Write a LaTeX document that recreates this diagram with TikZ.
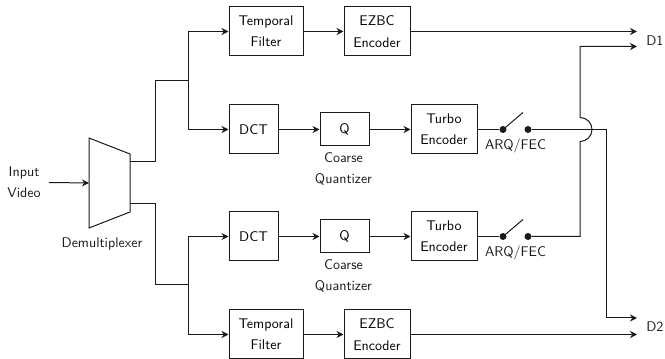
\documentclass[tikz,border=0pt]{standalone}
\usepackage{tikz}
\usepackage{xcolor}
\usetikzlibrary{positioning, arrows.meta, calc}
\definecolor{vcInk}{HTML}{1A1A1A}
\newcommand{\vcFont}{\sffamily\fontsize{10.5}{16}\selectfont}
\tikzset{
  vcBase/.style={rectangle, draw=vcInk, fill=white, line width=0.75pt,
                 minimum height=36.75pt, align=center, font=\vcFont,
                 inner sep=0pt},
  vcWide/.style={vcBase, minimum width=55.5pt},
  vcEnc/.style={vcBase, minimum width=49.5pt},
  vcSquare/.style={vcBase, minimum width=36.75pt},
  vcQuant/.style={vcBase, minimum width=36.75pt, minimum height=24.75pt},
  vcDot/.style={circle, fill=vcInk, inner sep=0pt, minimum size=5.25pt},
  vcWire/.style={line width=0.75pt, draw=vcInk},
  vcArrow/.style={vcWire, -{Stealth[length=5.25pt, width=5.25pt]}},
  vcLabel/.style={font=\vcFont, text=vcInk, align=center, inner sep=0pt},
}

\begin{document}
\begin{tikzpicture}[x=0.75pt, y=-0.75pt, node distance=30.75pt]
  \useasboundingbox (0,0) rectangle (665,359);

  % ─── Input and demultiplexer ─────────────────────────────────────────────────
  \node[vcLabel, inner sep=6pt] (vin) at (24,182.5) {Input\\Video};
  \draw[vcWire] (89,138) -- (130,154) -- (130,212) -- (89,228) -- cycle;
  \coordinate (dmxIn) at (89,183);
  \coordinate (dmxUp) at (130,162);
  \coordinate (dmxLo) at (130,204);
  \node[vcLabel] (dmx) at (102,244) {Demultiplexer};
  \draw[vcArrow] (vin.east) -- (dmxIn);

  % ─── Branch points feeding the two layers ────────────────────────────────────
  \coordinate (brUp) at (188,81);
  \coordinate (brLo) at (188,285);
  \draw[vcWire] (dmxUp) -- ++(25,0) |- (brUp);
  \draw[vcWire] (dmxLo) -- ++(25,0) |- (brLo);

  % ─── Row 1: temporal filter, EZBC (layer 1) ──────────────────────────────────
  \node[vcWide] (tf1) at (266,31.5) {Temporal\\Filter};
  \node[vcEnc, right=30pt of tf1] (ez1) {EZBC\\Encoder};

  % ─── Row 2: DCT, Q, turbo, ARQ/FEC switch (layer 1) ──────────────────────────
  \node[vcSquare] (dct1) at (253.5,129.5) {DCT};
  \node[vcQuant, right=of dct1] (q1) {Q};
  \node[vcEnc, right=of q1] (tb1) {Turbo\\Encoder};
  \node[vcLabel] (cq1) at (343.5,169) {Coarse\\Quantizer};
  \node[vcDot] (sw1a) at (503,129.5) {};
  \node[vcDot] (sw1b) at (528,129.5) {};
  \node[vcLabel] (arq1) at (515.5,146) {ARQ/FEC};

  % ─── Row 3: same chain (layer 2) ─────────────────────────────────────────────
  \node[vcSquare] (dct2) at (253.5,236.5) {DCT};
  \node[vcQuant, right=of dct2] (q2) {Q};
  \node[vcEnc, right=of q2] (tb2) {Turbo\\Encoder};
  \node[vcLabel] (cq2) at (343.5,276) {Coarse\\Quantizer};
  \node[vcDot] (sw2a) at (503,236.5) {};
  \node[vcDot] (sw2b) at (528,236.5) {};
  \node[vcLabel] (arq2) at (515.5,253) {ARQ/FEC};

  % ─── Row 4: temporal filter, EZBC (layer 2) ──────────────────────────────────
  \node[vcWide] (tf2) at (266,334.5) {Temporal\\Filter};
  \node[vcEnc, right=30pt of tf2] (ez2) {EZBC\\Encoder};

  % ─── Descriptions ────────────────────────────────────────────────────────────
  \node[vcLabel, anchor=west] (d1) at (646,40.5) {D1};
  \node[vcLabel, anchor=west] (d2) at (646,326.5) {D2};
  \coordinate (d1Hi) at (637,31.5);
  \coordinate (d1Lo) at (637,46.5);
  \coordinate (d2Hi) at (637,318);
  \coordinate (d2Lo) at (637,334.5);

  % ─── Forks into the rows ─────────────────────────────────────────────────────
  \draw[vcArrow] (brUp) |- (tf1.west);
  \draw[vcArrow] (brUp) |- (dct1.west);
  \draw[vcArrow] (brLo) |- (dct2.west);
  \draw[vcArrow] (brLo) |- (tf2.west);

  % ─── Chains ──────────────────────────────────────────────────────────────────
  \draw[vcArrow] (tf1) -- (ez1);
  \draw[vcArrow] (tf2) -- (ez2);
  \foreach \r in {1,2} {
    \draw[vcArrow] (dct\r) -- (q\r);
    \draw[vcArrow] (q\r) -- (tb\r);
    \draw[vcWire] (tb\r) -- (sw\r a);
    \draw[vcWire] (sw\r a.center) -- ++(20,-17);
  }

  % ─── Outputs, the layer-2 wire hops over the layer-1 wire ────────────────────
  \coordinate (hop) at (580,129.5);
  \coordinate (tap) at (606,129.5);
  \draw[vcArrow] (ez1) -- (d1Hi);
  \draw[vcArrow] (ez2) -- (d2Lo);
  \draw[vcArrow] (sw1b) -- (tap) |- (d2Hi);
  \draw[vcArrow] (sw2b) -| ([yshift=-9pt]hop)
    arc[start angle=-90, end angle=90, radius=9pt] -- (hop |- d1Lo) -- (d1Lo);

\end{tikzpicture}
\end{document}
